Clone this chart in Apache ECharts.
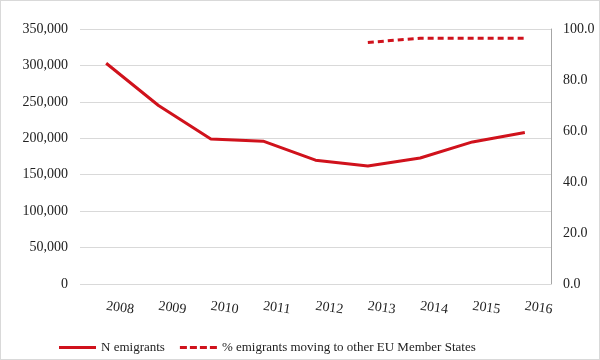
<!DOCTYPE html>
<html><head><meta charset="utf-8">
<script src="https://cdn.jsdelivr.net/npm/echarts@6/dist/echarts.min.js"></script>
<style>html,body{margin:0;padding:0;background:#fff}#c{width:600px;height:360px;box-sizing:border-box;border:1px solid #d9d9d9}</style>
</head><body><div id="c"></div>
<script>
var years = ['2008','2009','2010','2011','2012','2013','2014','2015','2016'];
var nEmigrants = [303000, 245000, 199000, 196000, 170000, 162000, 173000, 195000, 208000];
var pctEU = [null, null, null, null, null, 94.7, 96.4, 96.4, 96.4];
var leftTicks = [0, 350000, 50000];
var rightTicks = [0, 100, 20];
var red = '#d0121c';
var font = 'Liberation Serif';
var chart = echarts.init(document.getElementById('c'));
chart.setOption({
  animation: false,
  textStyle: {fontFamily: font},
  grid: {left: 79, right: 48, top: 28, bottom: 75, containLabel: false},
  legend: {
    top: 335, left: 53, itemWidth: 37, itemHeight: 10, itemGap: 15,
    textStyle: {fontFamily: font, fontSize: 13, color: '#222'},
    data: [
      {name: 'N emigrants', icon: 'path://M0,3.5H37V6.5H0Z', itemStyle: {color: red}},
      {name: '% emigrants moving to other EU Member States', icon: 'path://M0,3.5h7v3h-7z M10,3.5h7v3h-7z M20,3.5h7v3h-7z M30,3.5h7v3h-7z', itemStyle: {color: red}}
    ]
  },
  xAxis: {
    type: 'category', data: years, boundaryGap: true,
    axisLine: {show: false}, axisTick: {show: false},
    axisLabel: {rotate: -8, fontFamily: font, fontSize: 14, color: '#222', margin: 22}
  },
  yAxis: [{
    type: 'value', min: leftTicks[0], max: leftTicks[1], interval: leftTicks[2],
    axisLine: {show: false}, axisTick: {show: false},
    axisLabel: {fontFamily: font, fontSize: 14, color: '#222', margin: 12,
      formatter: function(v){return v.toLocaleString('en-US');}},
    splitLine: {lineStyle: {color: '#d9d9d9'}}
  }, {
    type: 'value', min: rightTicks[0], max: rightTicks[1], interval: rightTicks[2], position: 'right',
    axisLine: {show: true, lineStyle: {color: '#a6a6a6'}}, axisTick: {show: false},
    axisLabel: {fontFamily: font, fontSize: 14, color: '#222', margin: 12,
      formatter: function(v){return v.toFixed(1);}},
    splitLine: {show: false}
  }],
  series: [{
    name: 'N emigrants', type: 'line', data: nEmigrants, yAxisIndex: 0,
    symbol: 'none', itemStyle: {color: red}, lineStyle: {color: red, width: 3}
  }, {
    name: '% emigrants moving to other EU Member States', type: 'line', data: pctEU, yAxisIndex: 1,
    symbol: 'none', itemStyle: {color: red}, lineStyle: {color: red, width: 3, type: [6, 4]}
  }]
});
</script></body></html>
